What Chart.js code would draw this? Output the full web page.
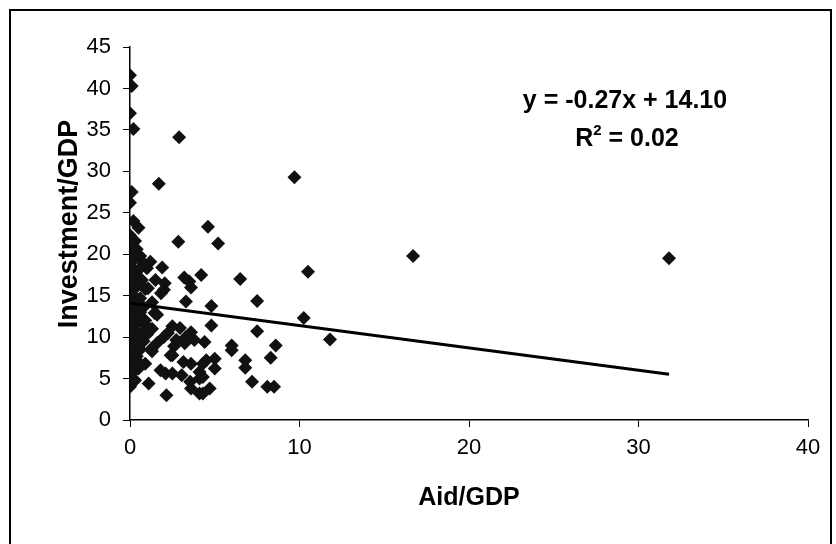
<!DOCTYPE html>
<html><head><meta charset="utf-8">
<script src="https://cdn.jsdelivr.net/npm/chart.js@4/dist/chart.umd.min.js"></script>
<style>html,body{margin:0;padding:0;background:#fff}#wrap{width:836px;height:544px;position:relative}</style>
</head><body><div id="wrap"><canvas id="c" width="836" height="544"></canvas></div>
<script>
// Scatter data: Aid/GDP (x) vs Investment/GDP (y)
const aidGDP = [
  0.0, 0.1, 0.0, 0.2, 2.9, 1.7, 9.7, 0.1, 0.0, 0.2, 0.5, 4.6, 2.85, 5.2, 16.7, 31.8,
  10.5, 4.2, 6.5, 3.2, 3.6, 7.5, 4.8, 3.3, 10.25, 4.8, 7.5, 11.8, 8.6, 6.0, 6.0, 4.4,
  8.3, 6.8, 6.8, 5.0, 5.0, 4.5, 4.3, 7.2, 8.1, 8.5, 4.7, 4.3,
  1.2, 1.9, 1.5, 2.0, 1.6, 2.5, 2.95, 3.6, 3.3, 2.0, 1.6, 2.6, 1.3, 2.5, 0.9, 3.15,
  3.6, 4.3, 4.1, 1.8, 2.1, 2.5, 3.05, 3.55, 4.1, 4.1, 3.6, 0.2, 1.1, 2.15,
  1.45, 2.24, 2.73, 3.23, 3.8, 1.83, 1.06, 2.05, 3.5, 1.0, 1.3, 0.9, 1.3, 1.0, 2.4, 1.26,
  0.0, 0.3, 0.1, 0.4, 0.0, 0.6, 0.2, 0.8, 0.1, 0.5, 0.0, 0.3, 0.7, 0.1, 0.4, 0.9,
  0.0, 0.2, 0.6, 0.1, 0.4, 0.8, 0.0, 0.3, 0.6, 0.1, 0.5, 0.9, 0.0, 0.3, 0.7, 0.1,
  0.4, 0.8, 0.0, 0.3, 0.6, 0.1, 0.4, 0.0, 0.2, 0.5, 0.1, 0.0, 0.3, 0.2, 0.6, 0.0,
  0.35, 0.15, 0.55, 0.05, 0.25, 0.45
];
const investGDP = [
  41.6, 40.3, 37.0, 35.1, 34.1, 28.5, 29.3, 27.5, 26.2, 24.0, 23.2, 23.3, 21.5, 21.3, 19.8, 19.5,
  17.9, 17.5, 17.0, 17.2, 16.0, 14.35, 13.75, 14.3, 12.3, 11.4, 10.7, 9.7, 9.0, 9.0, 8.4, 9.4,
  7.5, 7.2, 6.3, 7.4, 6.2, 7.2, 5.2, 4.6, 4.0, 4.0, 3.8, 3.2,
  19.1, 18.4, 16.9, 15.7, 12.7, 11.3, 11.1, 10.6, 10.0, 10.0, 9.3, 8.9, 8.3, 7.8, 6.8, 7.0,
  6.8, 6.8, 5.8, 6.0, 5.6, 5.6, 5.4, 4.6, 5.0, 3.2, 3.8, 4.6, 4.4, 3.0,
  12.9, 10.5, 9.65, 9.25, 9.65, 15.3, 15.9, 16.5, 16.7, 18.3, 14.2, 12.0, 11.0, 10.3, 7.8, 8.6,
  22.3, 21.6, 21.0, 20.6, 20.1, 19.8, 19.3, 18.9, 18.5, 18.1, 17.7, 17.3, 16.9, 16.5, 16.1, 15.8,
  15.4, 15.0, 14.7, 14.3, 13.9, 13.6, 13.2, 12.9, 12.5, 12.1, 11.8, 11.5, 11.1, 10.8, 10.5, 10.1,
  9.8, 9.5, 9.2, 8.8, 8.5, 8.1, 7.7, 7.3, 6.7, 6.2, 5.6, 4.0, 4.8, 14.1, 13.0, 12.4,
  11.7, 10.9, 9.9, 8.9, 8.0, 7.1
];
const xTicks = [0, 10, 20, 30, 40];
const yTicks = [0, 5, 10, 15, 20, 25, 30, 35, 40, 45];
const trendSlope = -0.27;
const trendIntercept = 14.10;
const trendXRange = [0, 31.8];
const equationText = 'y = -0.27x + 14.10';
const r2Text = '0.02';
const xTitle = 'Aid/GDP';
const yTitle = 'Investment/GDP';

const points = aidGDP.map((x, i) => ({ x: x, y: investGDP[i] }));
const trendPoints = trendXRange.map(x => ({ x: x, y: trendIntercept + trendSlope * x }));

const FONT = "'Liberation Sans', Arial, sans-serif";

const framePlugin = {
  id: 'frame',
  beforeDraw(chart) {
    const c = chart.ctx;
    c.save();
    c.fillStyle = '#fff';
    c.fillRect(0, 0, chart.width, chart.height);
    c.restore();
  },
  afterDraw(chart) {
    const c = chart.ctx;
    c.save();
    c.strokeStyle = '#000';
    c.lineWidth = 2;
    c.strokeRect(10, 10, 821, 540);
    c.fillStyle = '#000';
    // y axis title
    c.save();
    c.translate(70, 224);
    c.rotate(-Math.PI / 2);
    c.textAlign = 'center';
    c.textBaseline = 'middle';
    c.font = 'bold 27px ' + FONT;
    c.fillText(yTitle, 0, 0);
    c.restore();
    // regression equation
    c.textBaseline = 'alphabetic';
    c.textAlign = 'center';
    c.font = 'bold 25px ' + FONT;
    c.fillText(equationText, 625, 108);
    // R^2 line with superscript
    const big = 'bold 25px ' + FONT, small = 'bold 15px ' + FONT;
    c.font = big; const wR = c.measureText('R').width;
    const rest = ' = ' + r2Text; const wRest = c.measureText(rest).width;
    c.font = small; const w2 = c.measureText('2').width;
    let x0 = 627 - (wR + w2 + wRest) / 2;
    c.textAlign = 'left';
    c.font = big; c.fillText('R', x0, 146);
    c.font = small; c.fillText('2', x0 + wR, 135);
    c.font = big; c.fillText(rest, x0 + wR + w2, 146);
    c.restore();
  }
};

new Chart(document.getElementById('c'), {
  type: 'scatter',
  data: {
    datasets: [
      {
        type: 'scatter',
        data: points,
        pointStyle: 'rectRot',
        pointRadius: 7,
        pointBackgroundColor: '#111',
        pointBorderColor: '#111',
        pointBorderWidth: 0,
        order: 2
      },
      {
        type: 'line',
        data: trendPoints,
        borderColor: '#000',
        borderWidth: 3,
        pointRadius: 0,
        fill: false,
        order: 1
      }
    ]
  },
  options: {
    responsive: false,
    animation: false,
    devicePixelRatio: 1,
    layout: { padding: { left: 0, right: 28, top: 47, bottom: 0 } },
    plugins: { legend: { display: false }, tooltip: { enabled: false } },
    scales: {
      x: {
        type: 'linear', min: 0, max: 40,
        afterBuildTicks: s => { s.ticks = xTicks.map(v => ({ value: v })); },
        afterFit: s => { s.height = 124; },
        ticks: { color: '#000', font: { family: FONT, size: 22 }, padding: 8, maxRotation: 0 },
        grid: { drawOnChartArea: false, drawTicks: true, tickLength: 7, color: '#000', lineWidth: 1 },
        border: { display: true, color: '#000', width: 1.5 },
        title: { display: true, text: xTitle, color: '#000', font: { family: FONT, size: 25, weight: 'bold' }, padding: { top: 0, bottom: 31 } }
      },
      y: {
        type: 'linear', min: 0, max: 45,
        afterBuildTicks: s => { s.ticks = yTicks.map(v => ({ value: v })); },
        afterFit: s => { s.width = 130; },
        ticks: { color: '#000', font: { family: FONT, size: 22 }, padding: 12 },
        grid: { drawOnChartArea: false, drawTicks: true, tickLength: 7, color: '#000', lineWidth: 1 },
        border: { display: true, color: '#000', width: 1.5 },
        title: { display: false }
      }
    }
  },
  plugins: [framePlugin]
});
</script>
</body></html>
